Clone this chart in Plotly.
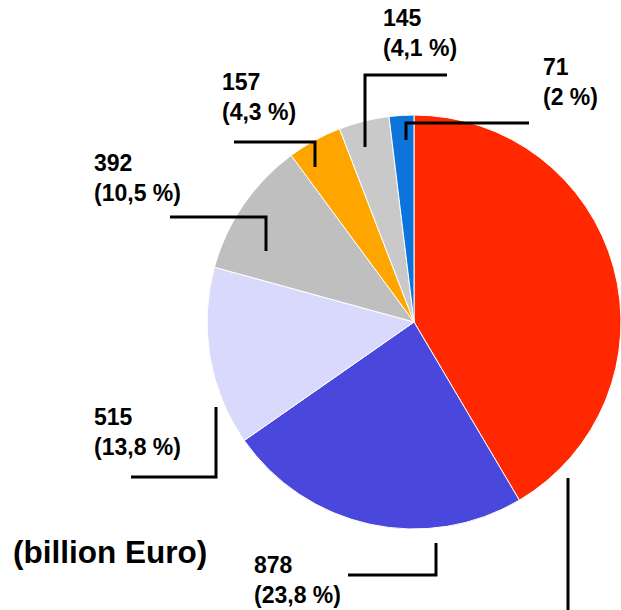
import plotly.graph_objects as go

# Data
categories = ["A", "B", "C", "D", "E", "F", "G"]
values = [1531, 878, 515, 392, 157, 145, 71]
pct_labels = ["41,5", "23,8", "13,8", "10,5", "4,3", "4,1", "2"]
colors = ["#FF2800", "#4A47DC", "#D9D9FB", "#BFBFBF", "#FFA500", "#C9C9C9", "#0D74DB"]
unit_label = "(billion Euro)"

W, H = 621, 610

def px(x):
    return x / W

def py(y):
    return 1 - y / H

# pie geometry (pixels)
cx, cy, r = 414, 322, 207

fig = go.Figure()
fig.add_trace(go.Pie(
    labels=categories,
    values=values,
    sort=False,
    direction="clockwise",
    rotation=0,
    marker=dict(colors=colors, line=dict(color="white", width=1)),
    textinfo="none",
    hoverinfo="label+value+percent",
    showlegend=False,
    domain=dict(x=[px(cx - r), min(1.0, px(cx + r))],
                y=[py(cy + r), py(cy - r)]),
))

# label anchor positions (left x, center y) in pixels, None = off canvas
label_pos = [None, (252, 580), (92, 432), (92, 178), (220, 97), (381, 33), (541, 82)]
# leader line paths in pixels
leaders = [
    [(568, 478), (568, 612)],
    [(436, 543), (436, 575), (348, 575)],
    [(216, 407), (216, 477), (131, 477)],
    [(170, 217), (266, 217), (266, 251)],
    [(234, 142), (315, 142), (315, 167)],
    [(447, 75), (365, 75), (365, 147)],
    [(529, 123), (406, 123), (406, 140)],
]

annotations = []
shapes = []
for v, p, pos, lead in zip(values, pct_labels, label_pos, leaders):
    if pos is not None:
        annotations.append(dict(
            x=px(pos[0]), y=py(pos[1]), xref="paper", yref="paper",
            xanchor="left", yanchor="middle", align="left",
            text=f"<b>{v}<br>({p} %)</b>", showarrow=False,
            font=dict(family="Liberation Sans, Arial", size=23, color="black"),
        ))
    path = "M " + " L ".join(f"{px(a):.5f},{py(b):.5f}" for a, b in lead)
    shapes.append(dict(type="path", path=path, xref="paper", yref="paper",
                       line=dict(color="black", width=3)))

annotations.append(dict(
    x=px(11), y=py(552), xref="paper", yref="paper",
    xanchor="left", yanchor="middle",
    text=f"<b>{unit_label}</b>", showarrow=False,
    font=dict(family="Liberation Sans, Arial", size=31.5, color="black"),
))

fig.update_layout(
    width=W, height=H,
    margin=dict(l=0, r=0, t=0, b=0),
    paper_bgcolor="white", plot_bgcolor="white",
    annotations=annotations, shapes=shapes,
)

fig.write_html("out.html",
               config={"displayModeBar": False},
               post_script="document.body.style.margin='0px';document.body.style.overflow='hidden';")
